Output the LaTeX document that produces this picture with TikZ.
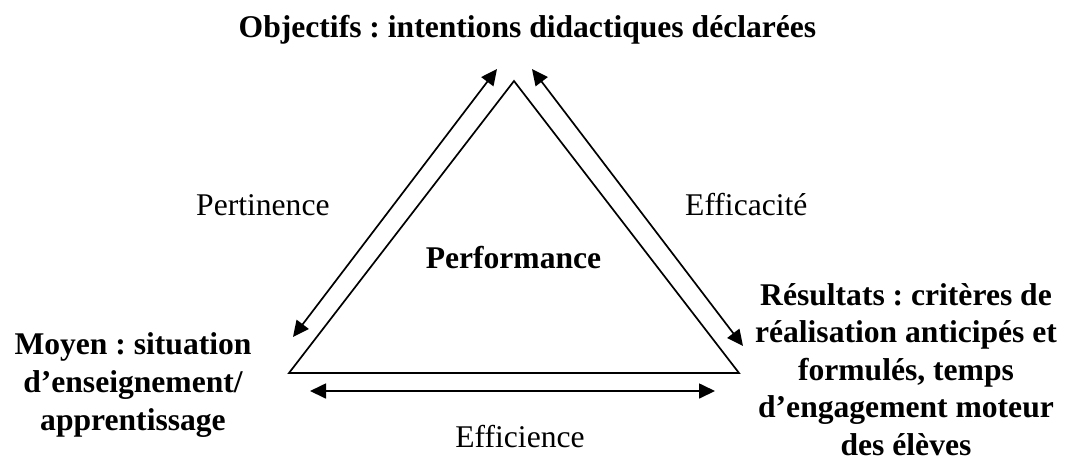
\documentclass[tikz,border=0pt]{standalone}
\usepackage{fontspec}
\setmainfont{Liberation Serif}
\usetikzlibrary{arrows.meta}
\frenchspacing
\begin{document}
\begin{tikzpicture}[x=1pt,y=-1pt,
  lbl/.style={inner sep=0pt,font=\fontsize{31.6}{38}\selectfont},
  blbl/.style={inner sep=0pt,font=\fontsize{31.6}{38}\selectfont\bfseries,align=center},
  edge/.style={line width=1.7pt,line join=miter},
  dbl/.style={line width=1.7pt,{Triangle[length=16pt,width=15pt]}-{Triangle[length=16pt,width=15pt]}}]
\useasboundingbox (0,0) rectangle (1066,459);
% triangle
\coordinate (A) at (514,81);
\coordinate (B) at (289,373);
\coordinate (C) at (739,373);
\draw[edge] (A) -- (B) -- (C) -- cycle;
% arrow end points
\coordinate (p1) at (497,69);
\coordinate (p2) at (293,337);
\coordinate (e1) at (532,69);
\coordinate (e2) at (743,346);
\coordinate (f1) at (310,391);
\coordinate (f2) at (715,391);
\draw[dbl] (p2) -- (p1);
\draw[dbl] (e1) -- (e2);
\draw[dbl] (f1) -- (f2);
% texts
\node[blbl,anchor=base] (obj) at (527.5,37) {Objectifs : intentions didactiques déclarées};
\node[lbl,anchor=base west] (pert) at (196,215) {Pertinence};
\node[lbl,anchor=base west] (effic) at (685,215) {Efficacité};
\node[blbl,anchor=base] (perf) at (513.5,268) {Performance};
\node[lbl,anchor=base] (efn) at (520,447) {Efficience};
\node[blbl,anchor=base] (moy) at (133,430) {Moyen : situation\\d’enseignement/\\apprentissage};
\node[blbl,anchor=base,font=\fontsize{31.6}{37.5}\selectfont\bfseries] (res) at (906,455) {Résultats : critères de\\réalisation anticipés et\\formulés, temps\\d’engagement moteur\\des élèves};
\end{tikzpicture}
\end{document}
